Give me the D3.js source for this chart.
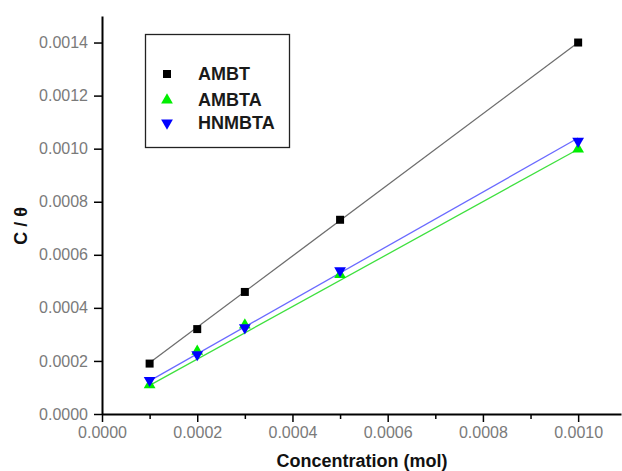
<!DOCTYPE html>
<html>
<head>
<meta charset="utf-8">
<script src="https://cdn.jsdelivr.net/npm/d3@7"></script>
<style>
  body { margin: 0; background: #fff; }
  svg { display: block; font-family: Arial, "Liberation Sans", sans-serif; }
</style>
</head>
<body>
<div id="chart"></div>
<script>
// concentrations (mol)
const concentrations = [0.0001, 0.0002, 0.0003, 0.0005, 0.0010];

// C/theta values per inhibitor
const ambt = [0.00019, 0.00032, 0.00046, 0.000732, 0.0014];
const ambta = [0.00011, 0.000236, 0.000335, 0.000525, 0.000998];
const hnmbta = [0.000127, 0.000224, 0.000325, 0.00054, 0.001028];

// fitted lines: [start, end] at the first and last concentration
const fitX = [0.0001, 0.0010];
const fitAmbt = [0.000193, 0.0014];
const fitAmbta = [0.000108, 0.000998];
const fitHnmbta = [0.000125, 0.00104];

const xTicks = [0, 0.0002, 0.0004, 0.0006, 0.0008, 0.0010];
const xMinorTicks = [0.0001, 0.0003, 0.0005, 0.0007, 0.0009];
const yTicks = [0, 0.0002, 0.0004, 0.0006, 0.0008, 0.0010, 0.0012, 0.0014];

const series = [
  { name: "AMBT", values: ambt, fit: fitAmbt, marker: "square", color: "#000", line: "#6e6e6e" },
  { name: "AMBTA", values: ambta, fit: fitAmbta, marker: "up", color: "#00ee00", line: "#3fe03f" },
  { name: "HNMBTA", values: hnmbta, fit: fitHnmbta, marker: "down", color: "#0000ff", line: "#6a6aff" }
];

const width = 622, height = 471;
const margin = { top: 16, right: 1, bottom: 57, left: 102 };

const svg = d3.select("#chart").append("svg")
  .attr("width", width)
  .attr("height", height);

const x = d3.scaleLinear().domain([0, 0.00109]).range([margin.left, width - margin.right]);
const y = d3.scaleLinear().domain([0, 0.0015]).range([height - margin.bottom, margin.top]);

// axes
const fmt = d3.format(".4f");
const xAxis = svg.append("g")
  .attr("transform", `translate(0,${y(0)})`)
  .call(d3.axisBottom(x).tickValues(xTicks).tickFormat(fmt).tickSize(8).tickPadding(5).tickSizeOuter(0));
svg.append("g")
  .attr("transform", `translate(0,${y(0)})`)
  .call(d3.axisBottom(x).tickValues(xMinorTicks).tickFormat("").tickSize(5).tickSizeOuter(0))
  .select(".domain").remove();
const yAxis = svg.append("g")
  .attr("transform", `translate(${x(0)},0)`)
  .call(d3.axisLeft(y).tickValues(yTicks).tickFormat(fmt).tickSize(8).tickPadding(6).tickSizeOuter(0));

svg.selectAll(".domain").attr("stroke", "#000").attr("stroke-width", 2);
svg.selectAll(".tick line").attr("stroke", "#000").attr("stroke-width", 1.5);
svg.selectAll(".tick text")
  .attr("fill", "#7a7a7a")
  .style("font-size", "16px")
  .style("font-family", "Arial, 'Liberation Sans', sans-serif");

// fitted lines
const line = d3.line().x(d => x(d[0])).y(d => y(d[1]));
series.forEach(s => {
  svg.append("path")
    .datum(fitX.map((c, i) => [c, s.fit[i]]))
    .attr("d", line)
    .attr("fill", "none")
    .attr("stroke", s.line)
    .attr("stroke-width", 1.3);
});

// markers
const symbolPath = {
  square: d3.symbol().type(d3.symbolSquare).size(64)(),
  up: d3.symbol().type(d3.symbolTriangle).size(60)(),
  down: d3.symbol().type(d3.symbolTriangle).size(60)()
};
function addMarker(g, kind, cx, cy, color) {
  g.append("path")
    .attr("d", symbolPath[kind])
    .attr("transform", `translate(${cx},${cy})` + (kind === "down" ? " rotate(180)" : ""))
    .attr("fill", color);
}
// draw AMBTA before HNMBTA like the original overlap
series.forEach(s => {
  const g = svg.append("g");
  s.values.forEach((v, i) => addMarker(g, s.marker, x(concentrations[i]), y(v), s.color));
});

// legend
const legend = svg.append("g");
legend.append("rect")
  .attr("x", 145.5).attr("y", 34.5)
  .attr("width", 144).attr("height", 113)
  .attr("fill", "#fff")
  .attr("stroke", "#222")
  .attr("stroke-width", 1.3);
const legendY = [74, 100, 123];
series.forEach((s, i) => {
  addMarker(legend, s.marker, 167, legendY[i], s.color);
  legend.append("text")
    .attr("x", 198)
    .attr("y", legendY[i] + 6)
    .attr("fill", "#1a1a1a")
    .style("font-size", "18px")
    .style("font-weight", "bold")
    .text(s.name);
});

// axis titles
svg.append("text")
  .attr("x", 362)
  .attr("y", 467)
  .attr("text-anchor", "middle")
  .attr("fill", "#111")
  .style("font-size", "18px")
  .style("font-weight", "bold")
  .text("Concentration (mol)");

svg.append("text")
  .attr("transform", "translate(27,226) rotate(-90)")
  .attr("text-anchor", "middle")
  .attr("fill", "#111")
  .style("font-size", "18px")
  .style("font-weight", "bold")
  .text("C / θ");
</script>
</body>
</html>
